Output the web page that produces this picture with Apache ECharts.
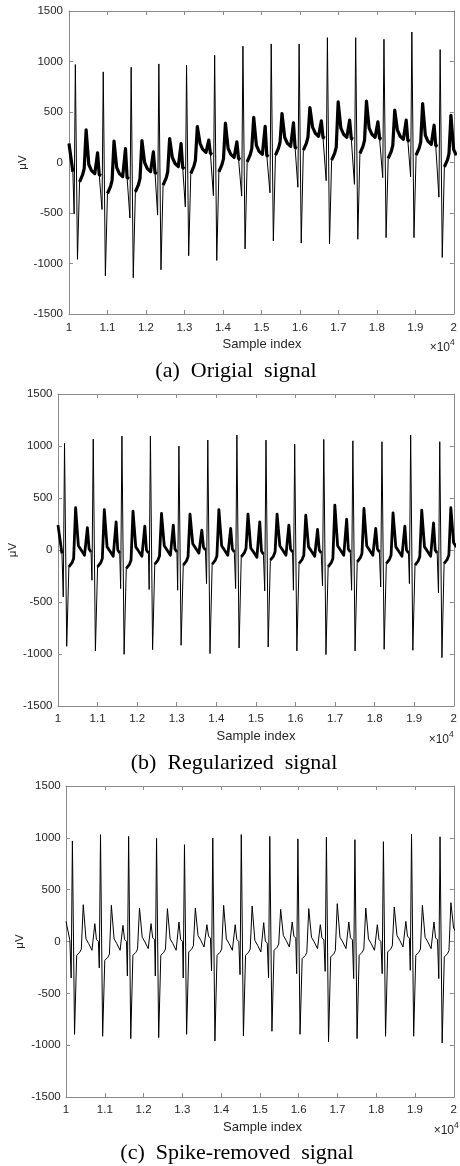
<!DOCTYPE html>
<html>
<head>
<meta charset="utf-8">
<script src="https://cdn.jsdelivr.net/npm/echarts@6/dist/echarts.min.js"></script>
<style>
  html, body { margin: 0; padding: 0; background: #fff; }
  #chart { width: 460px; height: 1166px; }
</style>
</head>
<body>
<div id="chart"></div>
<script>
// R-peak sample index of every beat (same recording in all three panels)
const beatAt = [10165, 10890, 11615, 12335, 13055, 13785, 14520, 15255, 15980, 16715, 17450, 18185, 18910, 19645];
const leadX = [10000, 10100];
const xTicks = ['1', '1.1', '1.2', '1.3', '1.4', '1.5', '1.6', '1.7', '1.8', '1.9', '2'];
const yTicks = [-1500, -1000, -500, 0, 500, 1000, 1500];
const captions = ['(a)  Origial  signal', '(b)  Regularized  signal', '(c)  Spike-removed  signal'];

// (a) original signal, values in µV read per beat
const leadA = [188, -92];
const qA = [-510, -465, -550, -521, -440, -328, -333, -300, -245, -180, -216, -150, -142, -343];
const rA = [970, 897, 943, 976, 963, 1062, 1152, 1174, 1174, 1236, 1236, 1220, 1292, 1118];
const sA = [-959, -1122, -1141, -1062, -923, -970, -856, -777, -798, -808, -760, -744, -744, -940];
const jA = [-191, -307, -290, -224, -109, -92, 7, 73, 122, 23, 89, 40, 73, -43];
const tA = [323, 212, 218, 237, 356, 389, 448, 485, 544, 600, 608, 518, 583, 468];
const baseA = [-110, -140, -90, -40, 100, 50, 80, 160, 260, 250, 250, 230, 180, 40];
const pA = [96, 138, 105, 188, 221, 204, 359, 392, 412, 419, 402, 419, 369];
const liftA = [70, 130, 90, 30, -10, -20];

// (b) regularized signal
const leadB = [239, -34];
const qB = [-451, -291, -371, -380, -387, -323, -371, -393, -387, -345, -387, -355, -323, -412];
const rB = [1025, 1066, 1095, 1095, 999, 1057, 1105, 1057, 1018, 1063, 1050, 1041, 1105, 1041];
const sB = [-926, -971, -1003, -958, -916, -996, -942, -933, -971, -1006, -971, -955, -964, -1035];
const jB = [-162, -162, -178, -137, -146, -137, -66, -98, -130, -162, -114, -130, -146, -130];
const tB = [408, 389, 373, 351, 345, 389, 345, 345, 335, 431, 399, 357, 383, 408];
const baseB = [-50, -60, -60, -50, -30, -50, -70, -50, -60, -50, -50, -60, -60, -20];
const pB = [216, 271, 229, 239, 191, 207, 271, 239, 197, 296, 207, 229, 261];
const liftB = [40, 80, 90, 50, 60, 30];

// (c) spike-removed signal
const leadC = [194, 12];
const qC = [-352, -255, -333, -333, -352, -284, -320, -352, -310, -288, -358, -310, -278, -358];
const rC = [970, 1031, 1014, 995, 934, 998, 1031, 1014, 990, 1008, 982, 963, 1034, 1010];
const sC = [-895, -914, -937, -927, -895, -960, -911, -866, -895, -969, -937, -914, -914, -978];
const jC = [-133, -182, -133, -133, -101, -133, -133, -85, -165, -149, -133, -101, -133, -149];
const tC = [355, 349, 323, 317, 323, 349, 342, 310, 317, 365, 323, 333, 349, 374];
const baseC = [-85, -85, -69, -85, -53, -85, -101, -53, -69, -69, -85, -53, -69, 20];
const pC = [172, 156, 172, 188, 162, 162, 182, 188, 162, 188, 162, 194, 188];
const liftC = [30, 60, 110, 65, 105, 85];

// walk the beats and emit the key points of each one; band = non-QRS parts only
function buildSignal(lead, q, r, s, j, t, base, p, lift) {
    const line = [[leadX[0], lead[0]], [leadX[1], lead[1]]];
    const band = [[leadX[0], lead[0]], [leadX[1], lead[1]], [leadX[1] + 5, '-']];
    for (let i = 0; i < beatAt.length; i++) {
        const R = beatAt[i];
        line.push([R - 32, q[i]], [R, r[i]], [R + 55, s[i]]);
        const rest = [
            [R + 110, j[i]],
            [R + 190, j[i] + lift[0]],
            [R + 230, j[i] + lift[1]],
            [R + 280, t[i]],
            [R + 350, base[i] + lift[2]],
            [R + 420, base[i] + lift[3]],
        ];
        if (p[i] !== undefined) {
            rest.push([R + 505, base[i]], [R + 578, p[i]],
                [R + 620, base[i] + lift[4]], [R + 670, base[i] + lift[5]]);
        }
        rest.forEach((pt) => { line.push(pt); band.push(pt); });
        band.push([R + 700, '-']);
    }
    return { line, band };
}

const sigs = [
    buildSignal(leadA, qA, rA, sA, jA, tA, baseA, pA, liftA),
    buildSignal(leadB, qB, rB, sB, jB, tB, baseB, pB, liftB),
    buildSignal(leadC, qC, rC, sC, jC, tC, baseC, pC, liftC),
];

const grids = [
    { left: 69, top: 11, width: 386, height: 303 },
    { left: 58, top: 394, width: 396, height: 312 },
    { left: 66, top: 786, width: 393, height: 311 },
];
const bandWidth = [3.2, 2.8, 0];
const xLabelMargin = [8, 7, 7];
const yLabelMargin = [6, 5.5, 5.3];
const yNameX = [23, 13, 20];
const capY = [371, 763, 1153];
const capX = [236, 234, 237];

const FONT = 'Liberation Sans, Arial, sans-serif';
const AXIS_COLOR = '#8a8a8a';
const TEXT_COLOR = '#262626';

const xAxis = [];
const yAxis = [];
const series = [];
const graphic = [];

grids.forEach((g, i) => {
    const tick = { show: true, inside: true, length: 4, lineStyle: { color: AXIS_COLOR } };
    const axisLine = { show: true, onZero: false, lineStyle: { color: AXIS_COLOR, width: 1 } };
    const xBase = {
        type: 'value', gridIndex: i, min: 10000, max: 20000, interval: 1000,
        splitLine: { show: false }, axisLine, axisTick: tick,
    };
    const yBase = {
        type: 'value', gridIndex: i, min: -1500, max: 1500, interval: 500,
        splitLine: { show: false }, axisLine, axisTick: tick,
    };
    xAxis.push(Object.assign({}, xBase, {
        position: 'bottom',
        axisLabel: {
            margin: xLabelMargin[i], color: TEXT_COLOR, fontFamily: FONT, fontSize: 11.5,
            formatter: (v) => xTicks[Math.round((v - 10000) / 1000)],
        },
    }));
    xAxis.push(Object.assign({}, xBase, { position: 'top', axisLabel: { show: false } }));
    yAxis.push(Object.assign({}, yBase, {
        position: 'left',
        axisLabel: {
            margin: yLabelMargin[i], color: TEXT_COLOR, fontFamily: FONT, fontSize: 11.5,
            formatter: (v) => String(yTicks[yTicks.indexOf(v)]),
        },
    }));
    yAxis.push(Object.assign({}, yBase, { position: 'right', axisLabel: { show: false } }));

    series.push({
        type: 'line', xAxisIndex: i * 2, yAxisIndex: i * 2,
        data: sigs[i].line, showSymbol: false, symbol: 'none', clip: true,
        lineStyle: { color: '#000', width: 1 }, silent: true,
    });
    if (bandWidth[i] > 0) {
        series.push({
            type: 'line', xAxisIndex: i * 2, yAxisIndex: i * 2,
            data: sigs[i].band, showSymbol: false, symbol: 'none', clip: true, connectNulls: false,
            lineStyle: { color: '#000', width: bandWidth[i], join: 'round' }, silent: true,
        });
    }

    const right = g.left + g.width;
    const bottom = g.top + g.height;
    graphic.push(
        {
            type: 'text', x: yNameX[i], y: g.top + g.height / 2, rotation: Math.PI / 2,
            style: { text: 'μV', font: '11.5px ' + FONT, fill: TEXT_COLOR, align: 'center', verticalAlign: 'middle' },
        },
        {
            type: 'text', x: g.left + g.width / 2, y: bottom + 30,
            style: { text: 'Sample index', font: '13px ' + FONT, fill: TEXT_COLOR, align: 'center', verticalAlign: 'middle' },
        },
        {
            type: 'text', x: right - 5, y: bottom + 34,
            style: { text: '×10', font: '12px ' + FONT, fill: TEXT_COLOR, align: 'right', verticalAlign: 'middle' },
        },
        {
            type: 'text', x: right - 5, y: bottom + 29,
            style: { text: '4', font: '8.5px ' + FONT, fill: TEXT_COLOR, align: 'left', verticalAlign: 'middle' },
        },
        {
            type: 'text', x: capX[i], y: capY[i],
            style: { text: captions[i], font: '22px Liberation Serif, Times New Roman, serif', fill: '#000', align: 'center', verticalAlign: 'middle' },
        }
    );
});

const chart = echarts.init(document.getElementById('chart'), null, { renderer: 'canvas' });
chart.setOption({
    animation: false,
    backgroundColor: '#fff',
    grid: grids,
    xAxis,
    yAxis,
    series,
    graphic,
});
</script>
</body>
</html>
